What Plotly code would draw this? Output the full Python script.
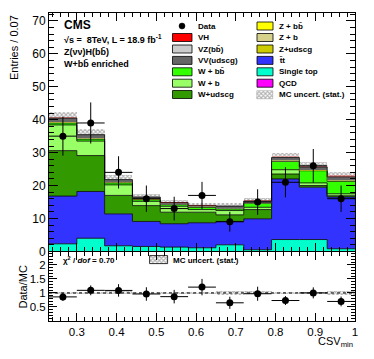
import math
import plotly.graph_objects as go

# CSV_min bins (width 0.07)
bin_edges = [0.23, 0.30, 0.37, 0.44, 0.51, 0.58, 0.65, 0.72, 0.79, 0.86, 0.93, 1.00]

# MC expectations per bin, stacked bottom -> top
single_top = [2.3, 4.0, 1.7, 1.5, 1.3, 1.1, 2.0, 0.5, 3.6, 3.6, 0.8]
ttbar = [14.5, 14.2, 9.7, 7.6, 7.1, 7.6, 7.1, 9.4, 18.4, 15.9, 15.7]
w_udscg = [13.8, 10.9, 5.6, 4.8, 3.5, 3.2, 2.0, 2.8, 1.5, 0.5, 0.4]
w_b = [7.8, 4.4, 3.2, 1.3, 1.8, 0.8, 1.3, 0.7, 1.3, 0.8, 0.6]
w_bb = [0.6, 0.6, 0.6, 0.5, 0.5, 0.7, 0.5, 1.2, 2.5, 3.7, 3.8]
z_udscg = [0.15, 0.1, 0.1, 0.1, 0.05, 0.05, 0.05, 0.05, 0.1, 0.05, 0.05]
z_b = [0.05, 0.05, 0.05, 0.05, 0.05, 0.05, 0.05, 0.05, 0.05, 0.05, 0.05]
z_bb = [0.1, 0.1, 0.05, 0.05, 0.05, 0.05, 0.05, 0.1, 0.15, 0.15, 0.15]
qcd = [0.0, 0.0, 0.0, 0.0, 0.0, 0.0, 0.0, 0.0, 0.0, 0.0, 0.0]
vv_udscg = [1.2, 1.1, 0.8, 0.6, 0.5, 0.4, 0.7, 0.5, 0.9, 0.9, 1.1]
vz_bb = [0.2, 0.2, 0.2, 0.1, 0.1, 0.1, 0.1, 0.1, 0.2, 0.2, 0.2]
vh = [0.02, 0.02, 0.02, 0.02, 0.02, 0.02, 0.02, 0.03, 0.05, 0.08, 0.1]
mc_stat_unc = [1.6, 1.6, 1.2, 0.8, 0.65, 0.6, 0.9, 0.8, 1.2, 1.15, 1.3]

data = [35, 39, 24, 16, 13, 17, 9, 15, 21, 26, 16]

FONT = "Liberation Sans, Arial, sans-serif"

# (label, values, colour, outline width)
components = [
    ("Single top", single_top, "#00ffcc", 0.8),
    ("t\u0304t", ttbar, "#3333ff", 0.8),
    ("W+udscg", w_udscg, "#339900", 0.8),
    ("W + b", w_b, "#99ff66", 0.8),
    ("W + bb\u0304", w_bb, "#33ff00", 0.8),
    ("Z+udscg", z_udscg, "#cccc00", 0),
    ("Z + b", z_b, "#d6d28c", 0),
    ("Z + bb\u0304", z_bb, "#ffff00", 0),
    ("QCD", qcd, "#ff00ff", 0),
    ("VV(udscg)", vv_udscg, "#666666", 0.8),
    ("VZ(bb\u0304)", vz_bb, "#cccccc", 0),
    ("VH", vh, "#ff0000", 0),
]
colour = {c[0]: c[2] for c in components}

centers = [(a + b) / 2 for a, b in zip(bin_edges[:-1], bin_edges[1:])]
widths = [b - a for a, b in zip(bin_edges[:-1], bin_edges[1:])]
total = [sum(c[1][i] for c in components) for i in range(len(data))]
data_err = [math.sqrt(d) for d in data]
ratio = [d / t for d, t in zip(data, total)]
ratio_err = [e / t for e, t in zip(data_err, total)]
ratio_unc = [u / t for u, t in zip(mc_stat_unc, total)]

# geometry: the page body adds an 8px offset, so the figure is sized to fit
# the window and all positions below are given in window pixels
OFF = 8
W, H = 374 - OFF, 359 - OFF
X0, X1, Y0, Y1 = 49, 355, 13, 321          # plot area in window pixels
ML, MR, MT, MB = X0 - OFF, W - (X1 - OFF), Y0 - OFF, H - (Y1 - OFF)
PW, PH = X1 - X0, Y1 - Y0
MAIN_DOM = [0.226, 1.0]
RATIO_DOM = [0.0, 0.224]
Y_MAX = 72.4
R_MAX = 2.46


def px(x):
    return (x - X0) / PW


def py(y):
    return (Y1 - y) / PH


def x_at(x):
    # window pixel -> CSV value
    return bin_edges[0] + px(x) * (bin_edges[-1] - bin_edges[0])


def y_main_at(y):
    return (py(y) - MAIN_DOM[0]) / (MAIN_DOM[1] - MAIN_DOM[0]) * Y_MAX


def y_ratio_at(y):
    return (py(y) - RATIO_DOM[0]) / (RATIO_DOM[1] - RATIO_DOM[0]) * R_MAX


hatch = dict(shape="x", fgcolor="#666666", size=3, solidity=0.6)

fig = go.Figure()

for name, vals, col, lw in components:
    fig.add_trace(go.Scatter(
        x=bin_edges, y=vals + [vals[-1]], mode="lines", stackgroup="mc",
        line=dict(color="black" if lw else col, width=lw, shape="hv"),
        fillcolor=col, name=name, showlegend=False, hoverinfo="skip",
        xaxis="x", yaxis="y"))

fig.add_trace(go.Bar(
    x=centers, y=[2 * u for u in mc_stat_unc],
    base=[t - u for t, u in zip(total, mc_stat_unc)], width=widths,
    marker=dict(color="rgba(0,0,0,0)", line_width=0, pattern=hatch),
    showlegend=False, hoverinfo="skip", xaxis="x", yaxis="y"))

err_style = dict(type="data", color="black", thickness=1, width=0)
fig.add_trace(go.Scatter(
    x=centers, y=data, mode="markers",
    marker=dict(color="black", size=7),
    error_y=dict(array=data_err, **err_style),
    error_x=dict(array=[w / 2 for w in widths], **err_style),
    showlegend=False, xaxis="x", yaxis="y"))

# ratio panel
fig.add_trace(go.Bar(
    x=centers, y=[2 * r for r in ratio_unc],
    base=[1 - r for r in ratio_unc], width=widths,
    marker=dict(color="rgba(0,0,0,0)", line_width=0, pattern=hatch),
    showlegend=False, hoverinfo="skip", xaxis="x2", yaxis="y2"))
fig.add_trace(go.Scatter(
    x=centers, y=ratio, mode="markers",
    marker=dict(color="black", size=7),
    error_y=dict(array=ratio_err, **err_style),
    error_x=dict(array=[w / 2 for w in widths], **err_style),
    showlegend=False, xaxis="x2", yaxis="y2"))

# hatched legend keys (main legend and ratio-panel legend)
fig.add_trace(go.Bar(
    x=[x_at(265)], y=[y_main_at(90.5) - y_main_at(98.5)], base=[y_main_at(98.5)],
    width=[x_at(273) - x_at(257)],
    marker=dict(color="white", line=dict(color="#999", width=0.5), pattern=hatch),
    showlegend=False, hoverinfo="skip", xaxis="x", yaxis="y"))
fig.add_trace(go.Bar(
    x=[x_at(159)], y=[y_ratio_at(256.5) - y_ratio_at(264.5)], base=[y_ratio_at(264.5)],
    width=[x_at(168) - x_at(150)],
    marker=dict(color="white", line=dict(color="black", width=0.8), pattern=hatch),
    showlegend=False, hoverinfo="skip", xaxis="x2", yaxis="y2"))

shapes = []
annotations = []
left_col = ["Data", "VH", "VZ(bb\u0304)", "VV(udscg)", "W + bb\u0304", "W + b", "W+udscg"]
right_col = ["Z + bb\u0304", "Z + b", "Z+udscg", "t\u0304t", "Single top", "QCD",
             "MC uncert. (stat.)"]
row_y = [26, 37.5, 49, 60.4, 71.8, 83.2, 94.5]
for col_labels, bx0, bx1, tx in [(left_col, 172.5, 192, 196), (right_col, 257, 273, 277)]:
    for lab, yy in zip(col_labels, row_y):
        if lab in colour:
            shapes.append(dict(type="rect", xref="paper", yref="paper",
                               x0=px(bx0), x1=px(bx1), y0=py(yy + 4), y1=py(yy - 4),
                               fillcolor=colour[lab], line=dict(color="black", width=0.8)))
        elif lab == "Data":
            shapes.append(dict(type="circle", xref="paper", yref="paper",
                               x0=px(179), x1=px(185), y0=py(29), y1=py(23),
                               fillcolor="black", line=dict(color="black", width=0.5)))
        annotations.append(dict(x=px(tx), y=py(yy), text="<b>%s</b>" % lab,
                                font=dict(family=FONT, size=8)))

# CMS label block
annotations += [
    dict(x=px(62), y=py(25), text="<b>CMS</b>", font=dict(family=FONT, size=12)),
    dict(x=px(62), y=py(39), text="<b>\u221as =  8TeV, L = 18.9 fb<sup>-1</sup></b>",
         font=dict(family=FONT, size=9)),
    dict(x=px(62), y=py(52), text="<b>Z(\u03bd\u03bd)H(bb\u0304)</b>", font=dict(family=FONT, size=9)),
    dict(x=px(62), y=py(64), text="<b>W+bb\u0304 enriched</b>", font=dict(family=FONT, size=9)),
    dict(x=px(61), y=py(260), text="<b>\u03c7<sup>2</sup> / <i>dof</i> = 0.70</b>",
         font=dict(family=FONT, size=8)),
    dict(x=px(171), y=py(260.5), text="<b>MC uncert. (stat.)</b>", font=dict(family=FONT, size=8)),
]
for a in annotations:
    a.update(xref="paper", yref="paper", showarrow=False, xanchor="left", yanchor="middle")
    a["font"]["color"] = "black"

# axis titles (rotated ones anchored at their centres)
annotations += [
    dict(x=px(14), y=py(48), xref="paper", yref="paper", text="Entries / 0.07",
         textangle=-90, xanchor="center", yanchor="middle", showarrow=False,
         font=dict(family=FONT, size=11, color="black")),
    dict(x=px(22.5), y=py(287), xref="paper", yref="paper", text="Data/MC",
         textangle=-90, xanchor="center", yanchor="middle", showarrow=False,
         font=dict(family=FONT, size=11, color="black")),
    dict(x=1.0, y=py(342), xref="paper", yref="paper", text="CSV<sub>min</sub>",
         xanchor="right", yanchor="middle", showarrow=False,
         font=dict(family=FONT, size=11, color="black")),
]

# ratio reference line
shapes.append(dict(type="line", xref="x2", yref="y2", x0=bin_edges[0], x1=bin_edges[-1],
                   y0=1, y1=1, line=dict(color="black", width=1, dash="dot")))

axis_common = dict(showline=True, linecolor="black", linewidth=1, mirror="ticks",
                   ticks="inside", tickcolor="black", tickwidth=1, showgrid=False,
                   zeroline=False)

fig.update_layout(
    width=W, height=H,
    margin=dict(l=ML, r=MR, t=MT, b=MB, autoexpand=False),
    paper_bgcolor="white", plot_bgcolor="white",
    barmode="overlay", bargap=0, showlegend=False,
    xaxis=dict(domain=[0, 1], anchor="y", range=[bin_edges[0], bin_edges[-1]],
               dtick=0.1, tick0=0, ticklen=8, showticklabels=False,
               minor=dict(ticks="inside", dtick=0.02, ticklen=4, tickcolor="black"),
               **axis_common),
    yaxis=dict(domain=MAIN_DOM, anchor="x", range=[0, Y_MAX], dtick=10, ticklen=9,
               tickfont=dict(family=FONT, size=12, color="black"),
               minor=dict(ticks="inside", dtick=2, ticklen=5, tickcolor="black"),
               **axis_common),
    xaxis2=dict(domain=[0, 1], anchor="y2", range=[bin_edges[0], bin_edges[-1]],
                dtick=0.1, tick0=0, ticklen=8,
                tickfont=dict(family=FONT, size=11.5, color="black"),
                minor=dict(ticks="inside", dtick=0.02, ticklen=4, tickcolor="black"),
                **axis_common),
    yaxis2=dict(domain=RATIO_DOM, anchor="x2", range=[0, R_MAX],
                tickvals=[0.5, 1, 1.5, 2], ticktext=["0.5", "1", "1.5", "2"], ticklen=8,
                tickfont=dict(family=FONT, size=11.5, color="black"),
                minor=dict(ticks="inside", dtick=0.1, ticklen=4, tickcolor="black"),
                **axis_common),
    shapes=shapes,
    annotations=annotations,
)

fig.write_html("out.html")
